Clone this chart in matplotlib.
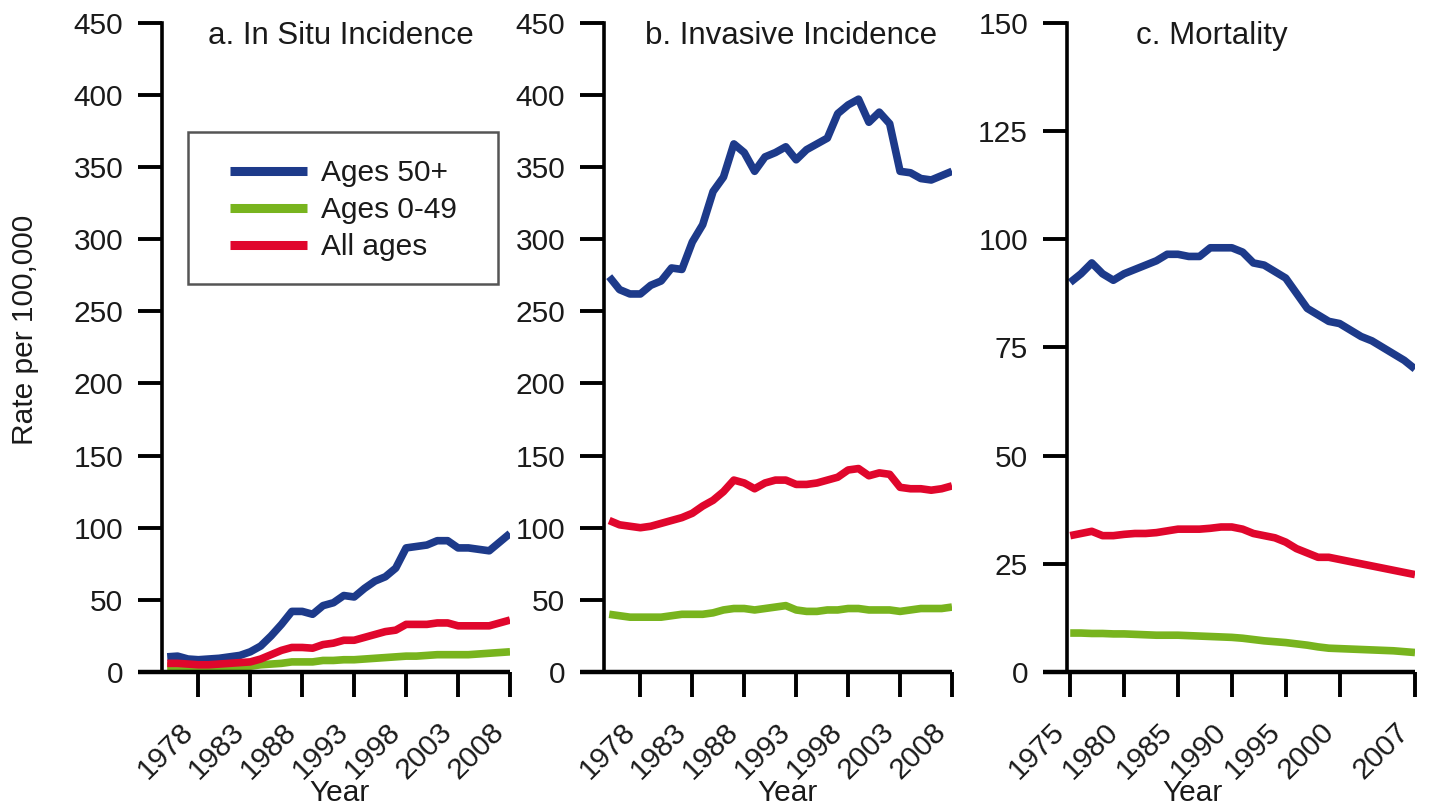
import matplotlib
matplotlib.use("Agg")
import matplotlib.pyplot as plt
from matplotlib.patches import Rectangle
from matplotlib.lines import Line2D

plt.rcParams['font.family'] = ['Liberation Sans', 'DejaVu Sans']

# ---------------- data ----------------
years_inc = list(range(1975, 2009))
years_mort = list(range(1975, 2008))

insitu_50plus = [10.5, 11, 9, 8.5, 9, 9.5, 10.5, 11.5, 14, 18, 25, 33, 42, 42, 40, 46, 48,
                 53, 52, 58, 63, 66, 72, 86, 87, 88, 91, 91, 86, 86, 85, 84, 90, 96]
insitu_0_49 = [4, 4, 3.5, 3, 3, 3, 3.5, 3.5, 4, 5, 5.5, 6, 7, 7, 7, 8, 8, 8.5, 8.5, 9,
               9.5, 10, 10.5, 11, 11, 11.5, 12, 12, 12, 12, 12.5, 13, 13.5, 14]
insitu_all = [6, 6, 5.5, 5, 5, 5.5, 6, 6.5, 7, 9, 12, 15, 17, 17, 16.5, 19, 20, 22, 22,
              24, 26, 28, 29, 33, 33, 33, 34, 34, 32, 32, 32, 32, 34, 36]

inv_50plus = [274, 265, 262, 262, 268, 271, 280, 279, 298, 310, 333, 343, 366, 360, 347,
              357, 360, 364, 355, 362, 366, 370, 387, 393, 397, 381, 388, 380, 347, 346,
              342, 341, 344, 347]
inv_0_49 = [40, 39, 38, 38, 38, 38, 39, 40, 40, 40, 41, 43, 44, 44, 43, 44, 45, 46, 43,
            42, 42, 43, 43, 44, 44, 43, 43, 43, 42, 43, 44, 44, 44, 45]
inv_all = [105, 102, 101, 100, 101, 103, 105, 107, 110, 115, 119, 125, 133, 131, 127, 131,
           133, 133, 130, 130, 131, 133, 135, 140, 141, 136, 138, 137, 128, 127, 127, 126,
           127, 129]

mort_50plus = [90, 92, 94.5, 92, 90.5, 92, 93, 94, 95, 96.5, 96.5, 96, 96, 98, 98, 98, 97,
               94.5, 94, 92.5, 91, 87.5, 84, 82.5, 81, 80.5, 79, 77.5, 76.5, 75, 73.5, 72, 70]
mort_0_49 = [9, 9, 8.9, 8.9, 8.8, 8.8, 8.7, 8.6, 8.5, 8.5, 8.5, 8.4, 8.3, 8.2, 8.1, 8,
             7.8, 7.5, 7.2, 7, 6.8, 6.5, 6.2, 5.8, 5.5, 5.4, 5.3, 5.2, 5.1, 5, 4.9, 4.7, 4.5]
mort_all = [31.5, 32, 32.5, 31.5, 31.5, 31.8, 32, 32, 32.2, 32.6, 33, 33, 33, 33.2, 33.5,
            33.5, 33, 32, 31.5, 31, 30, 28.5, 27.5, 26.5, 26.5, 26, 25.5, 25, 24.5, 24,
            23.5, 23, 22.5]

series_labels = ["Ages 50+", "Ages 0-49", "All ages"]
panel_titles = ["a. In Situ Incidence", "b. Invasive Incidence", "c. Mortality"]
inc_ticks = [1978, 1983, 1988, 1993, 1998, 2003, 2008]
mort_ticks = [1975, 1980, 1985, 1990, 1995, 2000, 2007]

# ---------------- style ----------------
C_BLUE = "#1d3a8a"
C_GREEN = "#78b41e"
C_RED = "#e0062c"
FS = 21.5
TXT = "#1a1a1a"
LW = 5.5

W, H = 1439, 811
fig = plt.figure(figsize=(W / 100, H / 100), dpi=100)

def px_axes(left, right, top, bottom):
    return [left / W, 1 - bottom / H, (right - left) / W, (bottom - top) / H]

axes_px = [(162, 510), (604, 952), (1067, 1415)]
top_px, bot_px = 22.7, 672

panels = [
    (years_inc, insitu_50plus, insitu_0_49, insitu_all, 450, 50, inc_ticks, (1974.5, 2008.0)),
    (years_inc, inv_50plus, inv_0_49, inv_all, 450, 50, inc_ticks, (1974.5, 2008.0)),
    (years_mort, mort_50plus, mort_0_49, mort_all, 150, 25, mort_ticks, (1974.7, 2007.0)),
]
title_x = [0.514, 0.537, 0.417]
year_x = [0.51, 0.526, 0.362]

axes = []
for i, (yrs, s50, s049, sall, ymax, ystep, xt, xl) in enumerate(panels):
    l, r = axes_px[i]
    ax = fig.add_axes(px_axes(l, r, top_px, bot_px))
    axes.append(ax)
    kw = dict(lw=LW, solid_joinstyle='round', solid_capstyle='butt')
    ax.plot(yrs, s50, color=C_BLUE, label=series_labels[0], **kw)
    ax.plot(yrs, s049, color=C_GREEN, label=series_labels[1], **kw)
    ax.plot(yrs, sall, color=C_RED, label=series_labels[2], **kw)
    ax.set_xlim(*xl)
    ax.set_ylim(0, ymax)
    ax.set_yticks(list(range(0, ymax + 1, ystep)))
    ax.set_xticks(xt)
    ax.set_xticklabels([str(t) for t in xt], rotation=45, ha='right', color=TXT, fontsize=FS)
    for lab in ax.get_yticklabels():
        lab.set_color(TXT)
        lab.set_fontsize(FS)
    ax.tick_params(axis='x', length=18, width=2.8, pad=15, color='black')
    ax.tick_params(axis='y', length=17, width=2.8, pad=11, color='black')
    for s in ['top', 'right', 'bottom']:
        ax.spines[s].set_visible(False)
    ax.spines['left'].set_linewidth(2.6)
    # extended x-axis line
    ax.add_line(Line2D([-0.07, 1.0], [0, 0], transform=ax.transAxes, color='black',
                       lw=3.2, clip_on=False, solid_capstyle='butt'))
    ax.text(title_x[i], 0.98, panel_titles[i], transform=ax.transAxes, ha='center',
            va='center', fontsize=FS + 1, color=TXT)
    ax.text(year_x[i], -0.186, "Year", transform=ax.transAxes, ha='center', va='center',
            fontsize=FS, color=TXT)

fig.text(25 / W, 1 - 330 / H, "Rate per 100,000", rotation=90, ha='center', va='center',
         fontsize=FS, color=TXT)

# legend in panel a
ax0 = axes[0]
x0, x1 = 0.075, 0.966
y0, y1 = 0.597, 0.832
ax0.add_patch(Rectangle((x0, y0), x1 - x0, y1 - y0, transform=ax0.transAxes, fill=False,
                        edgecolor='#555555', lw=1.8, zorder=5))
leg = ax0.legend(loc='center', bbox_to_anchor=((x0 + x1) / 2, (y0 + y1) / 2 - 0.003),
                 frameon=False, fontsize=FS, handlelength=2.6, handletextpad=0.45,
                 labelspacing=0.3)
for t in leg.get_texts():
    t.set_color(TXT)
for h in leg.get_lines():
    h.set_linewidth(6.5)

fig.savefig("out.png", dpi=100, facecolor='white')
